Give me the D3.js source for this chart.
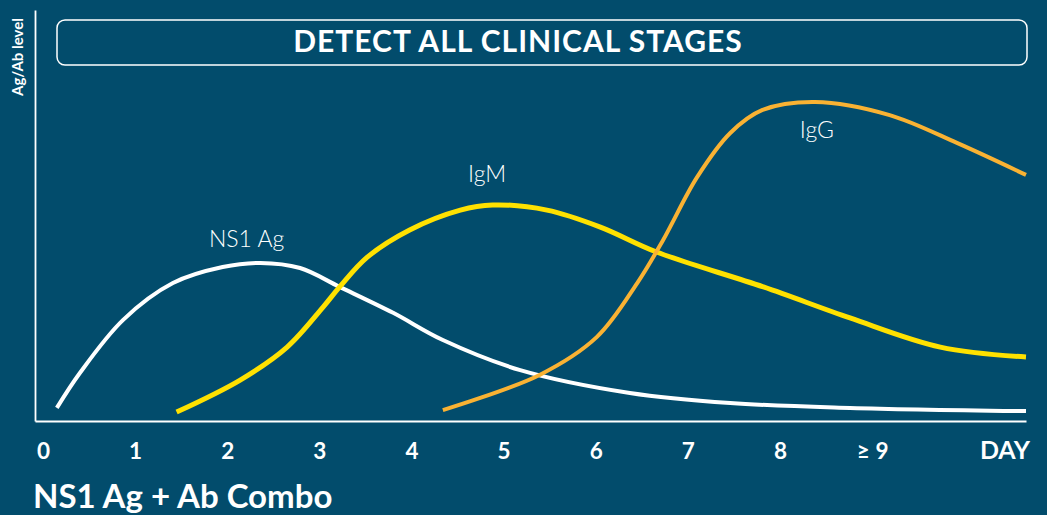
<!DOCTYPE html>
<html><head><meta charset="utf-8">
<script src="https://cdn.jsdelivr.net/npm/d3@7"></script>
<style>
html,body{margin:0;padding:0;background:#024c6c;}
svg{display:block;}
</style></head>
<body>
<svg id="chart" width="1047" height="515"></svg>
<script>
// ---- data (day, relative level 0-100) ----
const dayTicks = [0,1,2,3,4,5,6,7,8,9];
const dayTickLabels = ["0","1","2","3","4","5","6","7","8","\u2265 9"];
const ns1Days   = [0.15,0.40,0.87,1.41,1.95,2.36,2.79,3.22,3.80,4.34,5.18,6.37,7.46,8.76,10.67];
const ns1Level  = [4.1,15,31.6,43.1,48.1,49.4,47.8,41.9,33.8,25.3,15.9,8.75,5.6,4.1,3.1];
const igmDays   = [1.45,2.14,2.65,3.04,3.22,3.52,3.98,4.53,4.88,5.47,6.05,6.66,7.82,8.76,9.74,10.67];
const igmLevel  = [2.8,12.8,23.1,35.6,41.9,51.2,59.7,65.9,67.5,65.9,60.6,52.8,41.9,32.2,23.1,20];
const iggDays   = [4.34,5.39,6.01,6.45,6.73,7.10,7.46,7.81,8.38,9.19,9.92,10.67];
const iggLevel  = [3.4,14.4,26.2,43.1,56.5,76.2,90,97.2,99.7,95.6,86.9,76.9];
const seriesNames = ["NS1 Ag","IgM","IgG"];
const labelPos = [[2.21,54.4],[4.82,74.7],[8.4,88.4]]; // label anchor (day, level)

const W = 1047, H = 515;
const svg = d3.select("#chart");
const x = d3.scaleLinear().domain([-0.087, 10.67]).range([35, 1026]);
const y = d3.scaleLinear().domain([0, 100]).range([421, 101]);

// background
svg.append("rect").attr("width",W).attr("height",H).attr("fill","#024c6c");

// axes
const xAxis = d3.axisBottom(x).tickValues(dayTicks)
  .tickFormat((d,i)=>dayTickLabels[i]).tickSize(0).tickPadding(22);
const gx = svg.append("g").attr("transform","translate(0,421)").call(xAxis);
gx.select(".domain").attr("stroke","#fff").attr("stroke-width",1.8);
gx.selectAll("text").attr("fill","#fff").attr("font-family","Lato, sans-serif")
  .attr("font-weight","bold").attr("font-size",22.5).attr("dy",0).attr("y",38);

const yAxis = d3.axisLeft(d3.scaleLinear().domain([0,1]).range([421,10])).tickValues([]).tickSizeOuter(0);
const gy = svg.append("g").attr("transform","translate(35,0)").call(yAxis);
gy.select(".domain").attr("stroke","#fff").attr("stroke-width",1.8);

svg.append("text").attr("x",1005).attr("y",459).attr("text-anchor","middle")
  .attr("fill","#fff").attr("font-family","Lato, sans-serif").attr("font-weight","bold")
  .attr("font-size",25).text("DAY");

svg.append("text").attr("transform","translate(23,57) rotate(-90)")
  .attr("text-anchor","middle").attr("fill","#fff").attr("font-family","Lato, sans-serif")
  .attr("font-weight","bold").attr("font-size",15).text("Ag/Ab level");

// title box
svg.append("rect").attr("x",57).attr("y",20).attr("width",970).attr("height",45)
  .attr("rx",8).attr("fill","none").attr("stroke","#fff").attr("stroke-width",1.5);
svg.append("text").attr("x",518).attr("y",52).attr("text-anchor","middle")
  .attr("fill","#fff").attr("font-family","Lato, sans-serif").attr("font-weight","bold")
  .attr("font-size",30).attr("letter-spacing",1).text("DETECT ALL CLINICAL STAGES");

// curves
const line = d3.line().x(d=>x(d[0])).y(d=>y(d[1])).curve(d3.curveCatmullRom.alpha(0.5));
const series = [
  {days: ns1Days, lvl: ns1Level, color:"#ffffff", w:4},
  {days: igmDays, lvl: igmLevel, color:"#ffe100", w:5},
  {days: iggDays, lvl: iggLevel, color:"#f9b233", w:4}
];
series.forEach((s,i)=>{
  const pts = s.days.map((d,j)=>[d, s.lvl[j]]);
  svg.append("path").datum(pts).attr("d",line).attr("fill","none")
    .attr("stroke",s.color).attr("stroke-width",s.w);
  svg.append("text").attr("x",x(labelPos[i][0])).attr("y",y(labelPos[i][1]))
    .attr("text-anchor","middle").attr("fill","#fff").attr("font-family","Lato, sans-serif")
    .attr("font-weight",300).attr("font-size",23).text(seriesNames[i]);
});

// bottom title
svg.append("text").attr("x",33).attr("y",508).attr("fill","#fff")
  .attr("font-family","Lato, sans-serif").attr("font-weight","bold").attr("font-size",33)
  .text("NS1 Ag + Ab Combo");
</script>
</body></html>
